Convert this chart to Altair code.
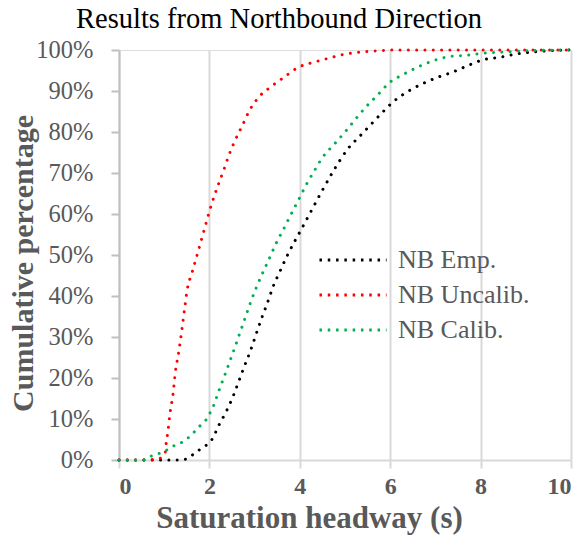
import altair as alt
import pandas as pd

# ---- data ----
emp_x = [0, 0.5, 1.0, 1.3, 1.47, 1.62, 1.77, 1.92, 2.05, 2.21, 2.38, 2.53, 2.66, 2.79,
         2.92, 3.04, 3.16, 3.29, 3.41, 3.56, 3.71, 3.88, 4.06, 4.23, 4.49, 4.76, 5.07,
         5.32, 5.57, 5.82, 6.08, 6.38, 6.7, 7.04, 7.38, 7.72, 8.05, 8.41, 8.78, 9.15,
         9.5, 10]
emp_y = [0, 0, 0, 0, 0.2, 1.2, 2.4, 3.5, 4.9, 8.5, 12, 15.7, 19.5, 23.3,
         27, 30.9, 34.7, 38.5, 42.3, 46, 49.6, 53.2, 56.8, 60.3, 65.6, 70.8, 76,
         78.9, 81.8, 84.7, 87.5, 89.8, 91.7, 93.3, 94.6, 96.2, 97.6, 98.2, 99, 99.5,
         99.8, 100]

unc_x = [0, 0.5, 0.9, 1.02, 1.04, 1.09, 1.13, 1.19, 1.25, 1.31, 1.39, 1.46, 1.51, 1.61,
         1.71, 1.81, 1.91, 2.01, 2.12, 2.31, 2.43, 2.57, 2.73, 2.89, 3.1, 3.37, 3.67,
         3.97, 4.31, 4.64, 5.0, 5.37, 5.73, 6.1, 7, 8, 9, 10]
unc_y = [0, 0, 0.4, 1.6, 3.7, 7.6, 11.5, 15.6, 21.7, 25.6, 31.7, 37.6, 41.6, 45.5,
         49.3, 53.2, 57.1, 61, 64.8, 70.5, 74.3, 78, 81.6, 85.3, 88.6, 91.1, 93.5,
         95.8, 97, 98, 99, 99.5, 99.8, 100, 100, 100, 100, 100]

cal_x = [0, 0.53, 0.72, 0.89, 1.05, 1.22, 1.39, 1.53, 1.67, 1.79, 1.92, 2.01, 2.09, 2.21,
         2.34, 2.47, 2.53, 2.65, 2.77, 2.89, 3.02, 3.17, 3.32, 3.47, 3.64, 3.80, 3.97,
         4.14, 4.32, 4.51, 4.76, 5.0, 5.23, 5.47, 5.72, 5.98, 6.30, 6.62, 6.96, 7.31,
         7.67, 8.05, 8.5, 9, 10]
cal_y = [0, 0, 1, 1.6, 2.4, 3.5, 4.3, 5.4, 6.9, 8.3, 9.7, 11.4, 13.2, 16.9,
         20.7, 24.6, 26.4, 30.2, 34, 37.8, 41.6, 45.4, 49, 52.7, 56.3, 59.8, 63.4,
         67.1, 70.5, 73.9, 77, 80, 83.1, 86.2, 89, 92, 94.1, 95.9, 97.4, 98.4,
         98.7, 99.2, 99.5, 99.8, 100]

series_names = ["NB Emp.", "NB Uncalib.", "NB Calib."]
series_colors = ["#000000", "#FF0000", "#00B050"]
x_ticks = [0, 2, 4, 6, 8, 10]
y_ticks = [0, 0.1, 0.2, 0.3, 0.4, 0.5, 0.6, 0.7, 0.8, 0.9, 1.0]

rows = []
for name, xs, ys in [(series_names[0], emp_x, emp_y),
                     (series_names[1], unc_x, unc_y),
                     (series_names[2], cal_x, cal_y)]:
    for i, (x, y) in enumerate(zip(xs, ys)):
        rows.append({"series": name, "h": x, "p": y / 100.0, "order": i})
df = pd.DataFrame(rows)

FONT = "Liberation Serif"
GRAY = "#595959"

lines = alt.Chart(df).mark_line(
    strokeWidth=3, strokeCap="round", strokeDash=[0.01, 8.3], interpolate="monotone"
).encode(
    x=alt.X("h:Q", scale=alt.Scale(domain=[0, 10], nice=False),
            axis=alt.Axis(title="Saturation headway (s)", values=x_ticks,
                          grid=True, gridColor="#D9D9D9", gridWidth=2,
                          domainColor="#D9D9D9", domainWidth=2,
                          tickColor="#D9D9D9", tickWidth=2, tickSize=8,
                          labelFont=FONT, labelFontSize=24, labelFontWeight="bold",
                          labelColor=GRAY, labelPadding=6,
                          titleFont=FONT, titleFontSize=31, titleFontWeight="bold",
                          titleColor=GRAY, titleBaseline="alphabetic",
                          titleX=190, titleY=67, titleAlign="center")),
    y=alt.Y("p:Q", scale=alt.Scale(domain=[0, 1], nice=False),
            axis=alt.Axis(title="Cumulative percentage", format=".0%",
                          values=y_ticks,
                          grid=False, domainColor="#BFBFBF", domainWidth=2,
                          tickColor="#BFBFBF", tickWidth=2, tickSize=8,
                          labelFont=FONT, labelFontSize=24.5, labelColor=GRAY,
                          labelPadding=18,
                          titleFont=FONT, titleFontSize=30, titleFontWeight="bold",
                          titleColor=GRAY, titleAngle=270, titleBaseline="middle",
                          titleX=-96, titleY=213, titleAlign="center")),
    color=alt.Color("series:N",
                    scale=alt.Scale(domain=series_names, range=series_colors),
                    legend=alt.Legend(title=None, orient="none", legendX=221, legendY=197,
                                      symbolType="M-3,0H3", symbolSize=500,
                                      symbolStrokeWidth=3, symbolDash=[2.5, 5.8],
                                      labelFont=FONT, labelFontSize=26, labelColor=GRAY,
                                      labelOffset=32, rowPadding=9, symbolOffset=0)),
    order="order:Q",
)

chart = lines.properties(
    width=452, height=410,
    title=alt.TitleParams("Results from Northbound Direction", font=FONT, fontSize=28.5,
                          fontWeight="normal", color="#000000", dx=-66, offset=4),
    autosize=alt.AutoSizeParams(type="none"),
    padding={"left": 119, "top": 50, "right": 13, "bottom": 77},
).configure_view(stroke=None).configure(background="white")

chart.save("out.html", embed_options={"renderer": "svg", "actions": False})
